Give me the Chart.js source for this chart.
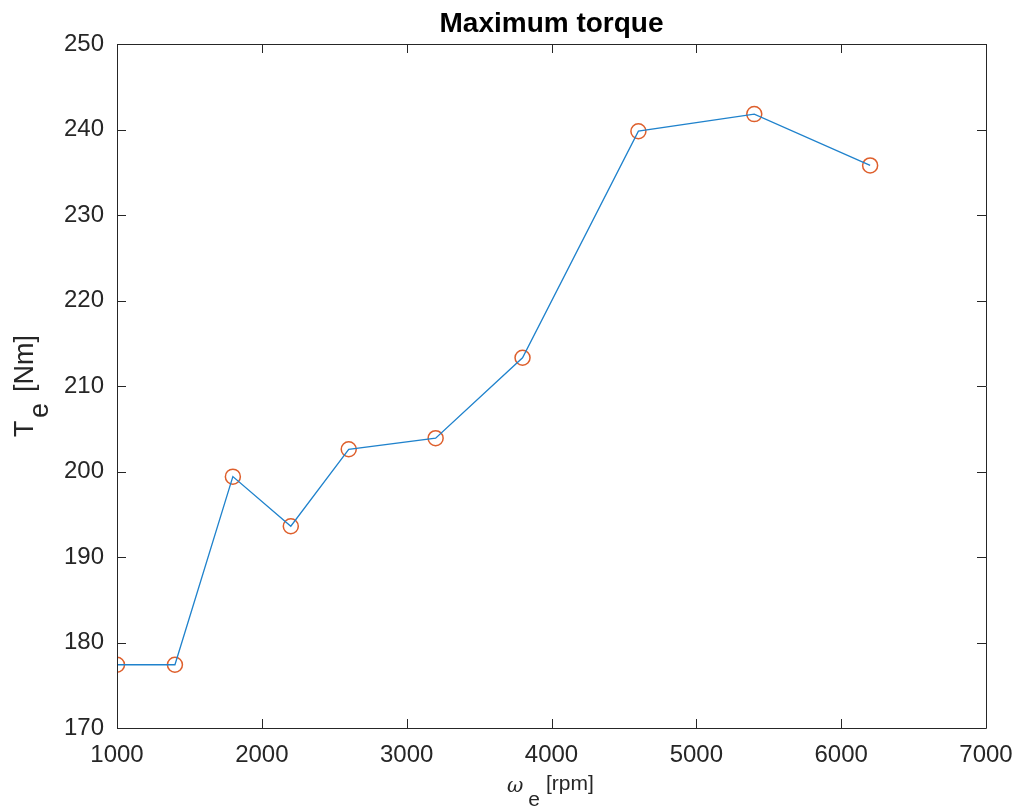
<!DOCTYPE html>
<html>
<head>
<meta charset="utf-8">
<script src="https://cdn.jsdelivr.net/npm/chart.js@4"></script>
<style>
  html, body { margin: 0; padding: 0; background: #fff; }
  canvas { display: block; }
</style>
</head>
<body>
<canvas id="torqueChart" width="1017" height="809"></canvas>
<script>
// datos
const speedRpm = [1000, 1400, 1800, 2200, 2600, 3200, 3800, 4600, 5400, 6200];
const torqueNm = [177.4, 177.4, 199.4, 193.6, 202.6, 203.9, 213.3, 239.8, 241.8, 235.8];
const xTicks = [1000, 2000, 3000, 4000, 5000, 6000, 7000];
const yTicks = [170, 180, 190, 200, 210, 220, 230, 240, 250];

const axisColor = '#262626';
const fontFamily = '"Liberation Sans", Arial, Helvetica, sans-serif';

const points = speedRpm.map((x, i) => ({ x: x, y: torqueNm[i] }));

// caja, marcas hacia dentro y textos estilo MATLAB
const matlabAxes = {
    id: 'matlabAxes',
    afterDraw(chart) {
        const ctx = chart.ctx;
        const a = chart.chartArea;
        const xs = chart.scales.x;
        const ys = chart.scales.y;
        const tick = 9;
        ctx.save();
        ctx.strokeStyle = axisColor;
        ctx.lineWidth = 1;
        ctx.beginPath();
        ctx.rect(Math.round(a.left) + 0.5, Math.round(a.top) + 0.5,
                 Math.round(a.right - a.left), Math.round(a.bottom - a.top));
        xTicks.forEach(v => {
            const px = Math.round(xs.getPixelForValue(v)) + 0.5;
            ctx.moveTo(px, a.bottom); ctx.lineTo(px, a.bottom - tick);
            ctx.moveTo(px, a.top); ctx.lineTo(px, a.top + tick);
        });
        yTicks.forEach(v => {
            const py = Math.round(ys.getPixelForValue(v)) + 0.5;
            ctx.moveTo(a.left, py); ctx.lineTo(a.left + tick, py);
            ctx.moveTo(a.right, py); ctx.lineTo(a.right - tick, py);
        });
        ctx.stroke();

        // titulo
        ctx.fillStyle = '#000';
        ctx.font = 'bold 28px ' + fontFamily;
        ctx.textAlign = 'center';
        ctx.textBaseline = 'alphabetic';
        ctx.fillText('Maximum torque', (a.left + a.right) / 2, 32);

        // etiqueta eje x: omega_e [rpm]
        ctx.fillStyle = axisColor;
        ctx.textAlign = 'left';
        let x0 = 507;
        ctx.font = 'italic 20px "DejaVu Serif", serif';
        ctx.fillText('\u03c9', x0, 792);
        x0 += ctx.measureText('\u03c9').width + 5;
        ctx.font = '21px ' + fontFamily;
        ctx.fillText('e', x0, 806);
        x0 += ctx.measureText('e').width + 6;
        ctx.font = '21px ' + fontFamily;
        ctx.fillText('[rpm]', x0, 790);

        // etiqueta eje y: T_e [Nm]
        ctx.translate(33, 437);
        ctx.rotate(-Math.PI / 2);
        ctx.font = '27px ' + fontFamily;
        ctx.fillText('T', 0, 0);
        ctx.fillText('e', 19, 15);
        ctx.fillText('[Nm]', 45, 0);
        ctx.restore();
    }
};

new Chart(document.getElementById('torqueChart'), {
    type: 'line',
    data: {
        datasets: [
            {
                label: 'Te',
                data: points,
                borderColor: '#1f82cc',
                borderWidth: 1.3,
                pointRadius: 0,
                fill: false,
                tension: 0
            },
            {
                label: 'puntos',
                data: points,
                showLine: false,
                borderColor: '#DE5F2C',
                backgroundColor: 'rgba(0,0,0,0)',
                borderWidth: 1.5,
                pointRadius: 7.5,
                pointStyle: 'circle'
            }
        ]
    },
    options: {
        responsive: false,
        animation: false,
        layout: { padding: { top: 44, right: 31, left: 0, bottom: 0 } },
        plugins: { legend: { display: false }, tooltip: { enabled: false }, title: { display: false } },
        scales: {
            x: {
                type: 'linear',
                min: 1000, max: 7000,
                afterBuildTicks: s => { s.ticks = xTicks.map(v => ({ value: v })); },
                afterFit: s => { s.height = 81; s.paddingLeft = 0; s.paddingRight = 0; },
                grid: { display: false, drawTicks: false },
                border: { display: false },
                ticks: { color: axisColor, font: { size: 24, family: fontFamily }, padding: 13, maxRotation: 0,
                         callback: v => String(v) }
            },
            y: {
                min: 170, max: 250,
                afterBuildTicks: s => { s.ticks = yTicks.map(v => ({ value: v })); },
                afterFit: s => { s.width = 117; s.paddingTop = 0; s.paddingBottom = 0; },
                grid: { display: false, drawTicks: false },
                border: { display: false },
                ticks: { color: axisColor, font: { size: 24, family: fontFamily }, padding: 13,
                         callback: v => String(v) }
            }
        }
    },
    plugins: [matlabAxes]
});
</script>
</body>
</html>
